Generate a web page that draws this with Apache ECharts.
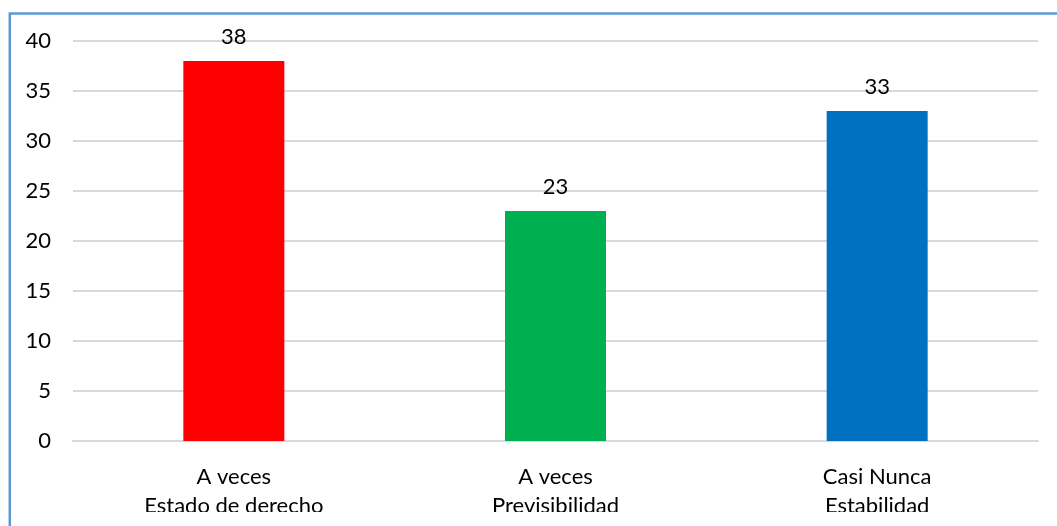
<!DOCTYPE html>
<html>
<head>
<meta charset="utf-8">
<script src="https://cdn.jsdelivr.net/npm/echarts@6/dist/echarts.min.js"></script>
<style>
html,body{margin:0;padding:0;background:#fff;}
#c{width:1057px;height:526px;}
</style>
</head>
<body>
<div id="c"></div>
<script>
const categories = ['A veces\nEstado de derecho', 'A veces\nPrevisibilidad', 'Casi Nunca\nEstabilidad'];
const values = [38, 23, 33];
const barColors = ['#FF0000', '#00B050', '#0070C0'];
const yTicks = [0, 5, 10, 15, 20, 25, 30, 35, 40];

const chart = echarts.init(document.getElementById('c'), null, {renderer: 'canvas'});
const FONT = 'Lato';
chart.setOption({
  animation: false,
  backgroundColor: '#fff',
  grid: {left: 73, right: 19, top: 41, bottom: 85, containLabel: false},
  xAxis: {
    type: 'category',
    data: categories,
    axisLine: {show: true, lineStyle: {color: '#D9D9D9', width: 2}},
    axisTick: {show: false},
    axisLabel: {
      color: '#000', fontFamily: FONT, fontSize: 22, lineHeight: 29, margin: 21,
      interval: 0
    }
  },
  yAxis: {
    type: 'value',
    min: yTicks[0], max: yTicks[yTicks.length - 1], interval: yTicks[1] - yTicks[0],
    axisLine: {show: false},
    axisTick: {show: false},
    splitLine: {lineStyle: {color: '#D9D9D9', width: 2}},
    axisLabel: {color: '#000', fontFamily: FONT, fontSize: 22, margin: 22}
  },
  series: [{
    type: 'bar',
    data: values.map((v, i) => ({value: v, itemStyle: {color: barColors[i]}})),
    barWidth: 101,
    label: {
      show: true, position: 'top', distance: 13,
      color: '#000', fontFamily: FONT, fontSize: 22
    }
  }],
  graphic: [
    {type: 'rect', z: 100, silent: true,
     shape: {x: 0, y: 512, width: 1057, height: 14},
     style: {fill: '#fff'}},
    {type: 'polyline', z: 101, silent: true,
     shape: {points: [[9.8, 526], [9.8, 13.6], [1057, 13.6]]},
     style: {stroke: '#5B9BD5', lineWidth: 2.5, fill: null}}
  ]
});
</script>
</body>
</html>
